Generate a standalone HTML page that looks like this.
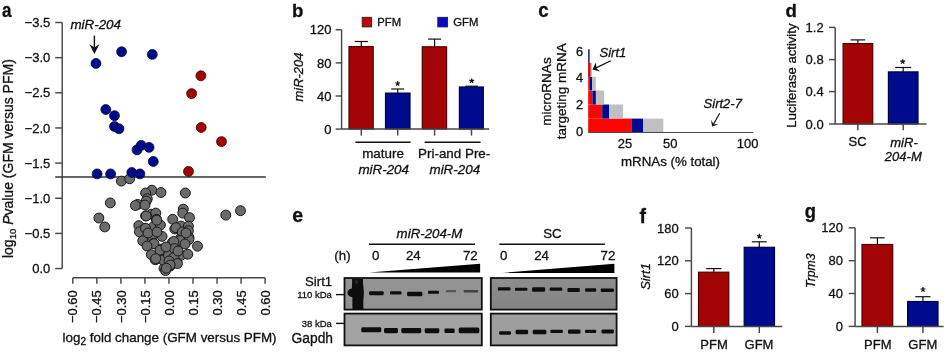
<!DOCTYPE html>
<html><head><meta charset="utf-8"><style>
html,body{margin:0;padding:0;background:#fff;}
svg{display:block;font-family:"Liberation Sans", sans-serif;filter:blur(0.35px);}
text{fill:#111;stroke:#111;stroke-width:0.3px;}
</style></head><body>
<svg width="946" height="352" viewBox="0 0 946 352">
<defs><linearGradient id="gsc" x1="0" y1="0" x2="0" y2="1"><stop offset="0" stop-color="#8e8e8e"/><stop offset="1" stop-color="#838383"/></linearGradient></defs>
<rect width="946" height="352" fill="#fff"/>
<text transform="translate(2.0,16.6) scale(0.88,1)" font-size="19.5" font-weight="bold">a</text>
<line x1="62.2" y1="22.5" x2="62.2" y2="268.54999999999995" stroke="#474747" stroke-width="1.45"/>
<line x1="55.2" y1="22.5" x2="62.2" y2="22.5" stroke="#474747" stroke-width="1.45"/>
<text x="50.3" y="27.1" font-size="13" text-anchor="end">&#8722;3.5</text>
<line x1="55.2" y1="57.65" x2="62.2" y2="57.65" stroke="#474747" stroke-width="1.45"/>
<text x="50.3" y="62.25" font-size="13" text-anchor="end">&#8722;3.0</text>
<line x1="55.2" y1="92.8" x2="62.2" y2="92.8" stroke="#474747" stroke-width="1.45"/>
<text x="50.3" y="97.39999999999999" font-size="13" text-anchor="end">&#8722;2.5</text>
<line x1="55.2" y1="127.94999999999999" x2="62.2" y2="127.94999999999999" stroke="#474747" stroke-width="1.45"/>
<text x="50.3" y="132.54999999999998" font-size="13" text-anchor="end">&#8722;2.0</text>
<line x1="55.2" y1="163.1" x2="62.2" y2="163.1" stroke="#474747" stroke-width="1.45"/>
<text x="50.3" y="167.7" font-size="13" text-anchor="end">&#8722;1.5</text>
<line x1="55.2" y1="198.25" x2="62.2" y2="198.25" stroke="#474747" stroke-width="1.45"/>
<text x="50.3" y="202.85" font-size="13" text-anchor="end">&#8722;1.0</text>
<line x1="55.2" y1="233.39999999999998" x2="62.2" y2="233.39999999999998" stroke="#474747" stroke-width="1.45"/>
<text x="50.3" y="237.99999999999997" font-size="13" text-anchor="end">&#8722;0.5</text>
<line x1="55.2" y1="268.54999999999995" x2="62.2" y2="268.54999999999995" stroke="#474747" stroke-width="1.45"/>
<text x="50.3" y="273.15" font-size="13" text-anchor="end">0.0</text>
<text transform="translate(12.8,158.6) rotate(-90)" font-size="14" text-anchor="middle">log<tspan font-size="9.5" dy="3">10</tspan><tspan dy="-3"> </tspan><tspan font-style="italic">P</tspan>value (GFM versus PFM)</text>
<line x1="55.2" y1="177.0" x2="265.8" y2="177.0" stroke="#333" stroke-width="1.4"/>
<line x1="72.8" y1="277.8" x2="265.12" y2="277.8" stroke="#474747" stroke-width="1.45"/>
<line x1="72.8" y1="277.8" x2="72.8" y2="283.8" stroke="#474747" stroke-width="1.45"/>
<text transform="translate(77.4,290.2) rotate(-90)" font-size="13" text-anchor="end">&#8722;0.60</text>
<line x1="96.84" y1="277.8" x2="96.84" y2="283.8" stroke="#474747" stroke-width="1.45"/>
<text transform="translate(101.4,290.2) rotate(-90)" font-size="13" text-anchor="end">&#8722;0.45</text>
<line x1="120.88" y1="277.8" x2="120.88" y2="283.8" stroke="#474747" stroke-width="1.45"/>
<text transform="translate(125.5,290.2) rotate(-90)" font-size="13" text-anchor="end">&#8722;0.30</text>
<line x1="144.92000000000002" y1="277.8" x2="144.92000000000002" y2="283.8" stroke="#474747" stroke-width="1.45"/>
<text transform="translate(149.5,290.2) rotate(-90)" font-size="13" text-anchor="end">&#8722;0.15</text>
<line x1="168.95999999999998" y1="277.8" x2="168.95999999999998" y2="283.8" stroke="#474747" stroke-width="1.45"/>
<text transform="translate(173.6,290.2) rotate(-90)" font-size="13" text-anchor="end">0.00</text>
<line x1="193.0" y1="277.8" x2="193.0" y2="283.8" stroke="#474747" stroke-width="1.45"/>
<text transform="translate(197.6,290.2) rotate(-90)" font-size="13" text-anchor="end">0.15</text>
<line x1="217.04000000000002" y1="277.8" x2="217.04000000000002" y2="283.8" stroke="#474747" stroke-width="1.45"/>
<text transform="translate(221.6,290.2) rotate(-90)" font-size="13" text-anchor="end">0.30</text>
<line x1="241.07999999999998" y1="277.8" x2="241.07999999999998" y2="283.8" stroke="#474747" stroke-width="1.45"/>
<text transform="translate(245.7,290.2) rotate(-90)" font-size="13" text-anchor="end">0.45</text>
<line x1="265.12" y1="277.8" x2="265.12" y2="283.8" stroke="#474747" stroke-width="1.45"/>
<text transform="translate(269.7,290.2) rotate(-90)" font-size="13" text-anchor="end">0.60</text>
<text x="62.6" y="341.7" font-size="13.4">log<tspan font-size="10" dy="3.3">2</tspan><tspan dy="-3.3"> fold change (GFM versus PFM)</tspan></text>
<text x="70.4" y="29.4" font-size="13.4" text-anchor="start" font-style="italic">miR-204</text>
<line x1="94.4" y1="35.6" x2="94.4" y2="48" stroke="#111" stroke-width="1.4"/>
<path d="M89.4,44.2 L94.4,53.9 L99.4,44.2 L94.4,47.6 Z" fill="#111"/>
<circle cx="121.4" cy="181.1" r="4.95" fill="#6b6b6b" stroke="#1a1a1a" stroke-width="1"/>
<circle cx="129.7" cy="178.8" r="4.95" fill="#6b6b6b" stroke="#1a1a1a" stroke-width="1"/>
<circle cx="110.3" cy="202.9" r="4.95" fill="#6b6b6b" stroke="#1a1a1a" stroke-width="1"/>
<circle cx="98.9" cy="218" r="4.95" fill="#6b6b6b" stroke="#1a1a1a" stroke-width="1"/>
<circle cx="104.8" cy="226.9" r="4.95" fill="#6b6b6b" stroke="#1a1a1a" stroke-width="1"/>
<circle cx="225.8" cy="215.1" r="4.95" fill="#6b6b6b" stroke="#1a1a1a" stroke-width="1"/>
<circle cx="240.5" cy="210.7" r="4.95" fill="#6b6b6b" stroke="#1a1a1a" stroke-width="1"/>
<circle cx="185.4" cy="193" r="4.95" fill="#6b6b6b" stroke="#1a1a1a" stroke-width="1"/>
<circle cx="151.9" cy="190.2" r="4.95" fill="#6b6b6b" stroke="#1a1a1a" stroke-width="1"/>
<circle cx="161" cy="192.5" r="4.95" fill="#6b6b6b" stroke="#1a1a1a" stroke-width="1"/>
<circle cx="145.6" cy="193" r="4.95" fill="#6b6b6b" stroke="#1a1a1a" stroke-width="1"/>
<circle cx="147.3" cy="198.7" r="4.95" fill="#6b6b6b" stroke="#1a1a1a" stroke-width="1"/>
<circle cx="146.2" cy="201.1" r="4.95" fill="#6b6b6b" stroke="#1a1a1a" stroke-width="1"/>
<circle cx="137.7" cy="204.4" r="4.95" fill="#6b6b6b" stroke="#1a1a1a" stroke-width="1"/>
<circle cx="135.4" cy="205.5" r="4.95" fill="#6b6b6b" stroke="#1a1a1a" stroke-width="1"/>
<circle cx="145" cy="205" r="4.95" fill="#6b6b6b" stroke="#1a1a1a" stroke-width="1"/>
<circle cx="183.3" cy="209.1" r="4.95" fill="#6b6b6b" stroke="#1a1a1a" stroke-width="1"/>
<circle cx="182.7" cy="213.1" r="4.95" fill="#6b6b6b" stroke="#1a1a1a" stroke-width="1"/>
<circle cx="189.5" cy="217.6" r="4.95" fill="#6b6b6b" stroke="#1a1a1a" stroke-width="1"/>
<circle cx="172.7" cy="219.3" r="4.95" fill="#6b6b6b" stroke="#1a1a1a" stroke-width="1"/>
<circle cx="145.6" cy="215.9" r="4.95" fill="#6b6b6b" stroke="#1a1a1a" stroke-width="1"/>
<circle cx="151.3" cy="214.2" r="4.95" fill="#6b6b6b" stroke="#1a1a1a" stroke-width="1"/>
<circle cx="155.8" cy="213.1" r="4.95" fill="#6b6b6b" stroke="#1a1a1a" stroke-width="1"/>
<circle cx="156.4" cy="219.3" r="4.95" fill="#6b6b6b" stroke="#1a1a1a" stroke-width="1"/>
<circle cx="181" cy="226.1" r="4.95" fill="#6b6b6b" stroke="#1a1a1a" stroke-width="1"/>
<circle cx="188.4" cy="226.1" r="4.95" fill="#6b6b6b" stroke="#1a1a1a" stroke-width="1"/>
<circle cx="174.8" cy="229" r="4.95" fill="#6b6b6b" stroke="#1a1a1a" stroke-width="1"/>
<circle cx="188.4" cy="230.7" r="4.95" fill="#6b6b6b" stroke="#1a1a1a" stroke-width="1"/>
<circle cx="182.2" cy="234.1" r="4.95" fill="#6b6b6b" stroke="#1a1a1a" stroke-width="1"/>
<circle cx="138.8" cy="225.6" r="4.95" fill="#6b6b6b" stroke="#1a1a1a" stroke-width="1"/>
<circle cx="145" cy="228.4" r="4.95" fill="#6b6b6b" stroke="#1a1a1a" stroke-width="1"/>
<circle cx="153.6" cy="226.7" r="4.95" fill="#6b6b6b" stroke="#1a1a1a" stroke-width="1"/>
<circle cx="160.4" cy="225" r="4.95" fill="#6b6b6b" stroke="#1a1a1a" stroke-width="1"/>
<circle cx="139.4" cy="231.8" r="4.95" fill="#6b6b6b" stroke="#1a1a1a" stroke-width="1"/>
<circle cx="180.5" cy="238.6" r="4.95" fill="#6b6b6b" stroke="#1a1a1a" stroke-width="1"/>
<circle cx="189" cy="237.5" r="4.95" fill="#6b6b6b" stroke="#1a1a1a" stroke-width="1"/>
<circle cx="180.5" cy="241.1" r="4.95" fill="#6b6b6b" stroke="#1a1a1a" stroke-width="1"/>
<circle cx="189" cy="239.4" r="4.95" fill="#6b6b6b" stroke="#1a1a1a" stroke-width="1"/>
<circle cx="197.5" cy="246.2" r="4.95" fill="#6b6b6b" stroke="#1a1a1a" stroke-width="1"/>
<circle cx="172.5" cy="242.2" r="4.95" fill="#6b6b6b" stroke="#1a1a1a" stroke-width="1"/>
<circle cx="174.8" cy="247.9" r="4.95" fill="#6b6b6b" stroke="#1a1a1a" stroke-width="1"/>
<circle cx="151.9" cy="236.6" r="4.95" fill="#6b6b6b" stroke="#1a1a1a" stroke-width="1"/>
<circle cx="162.1" cy="236.4" r="4.95" fill="#6b6b6b" stroke="#1a1a1a" stroke-width="1"/>
<circle cx="142.8" cy="240.8" r="4.95" fill="#6b6b6b" stroke="#1a1a1a" stroke-width="1"/>
<circle cx="153.6" cy="243.4" r="4.95" fill="#6b6b6b" stroke="#1a1a1a" stroke-width="1"/>
<circle cx="160.4" cy="250.2" r="4.95" fill="#6b6b6b" stroke="#1a1a1a" stroke-width="1"/>
<circle cx="161.7" cy="249" r="4.95" fill="#6b6b6b" stroke="#1a1a1a" stroke-width="1"/>
<circle cx="166.8" cy="254.2" r="4.95" fill="#6b6b6b" stroke="#1a1a1a" stroke-width="1"/>
<circle cx="181" cy="255.3" r="4.95" fill="#6b6b6b" stroke="#1a1a1a" stroke-width="1"/>
<circle cx="187.8" cy="254.2" r="4.95" fill="#6b6b6b" stroke="#1a1a1a" stroke-width="1"/>
<circle cx="173.1" cy="258.1" r="4.95" fill="#6b6b6b" stroke="#1a1a1a" stroke-width="1"/>
<circle cx="177" cy="262.7" r="4.95" fill="#6b6b6b" stroke="#1a1a1a" stroke-width="1"/>
<circle cx="151.3" cy="254.7" r="4.95" fill="#6b6b6b" stroke="#1a1a1a" stroke-width="1"/>
<circle cx="155.3" cy="259.8" r="4.95" fill="#6b6b6b" stroke="#1a1a1a" stroke-width="1"/>
<circle cx="162.7" cy="259.8" r="4.95" fill="#6b6b6b" stroke="#1a1a1a" stroke-width="1"/>
<circle cx="166.6" cy="265" r="4.95" fill="#6b6b6b" stroke="#1a1a1a" stroke-width="1"/>
<circle cx="170.2" cy="266.1" r="4.95" fill="#6b6b6b" stroke="#1a1a1a" stroke-width="1"/>
<circle cx="164" cy="268.4" r="4.95" fill="#6b6b6b" stroke="#1a1a1a" stroke-width="1"/>
<circle cx="165.5" cy="270.6" r="4.95" fill="#6b6b6b" stroke="#1a1a1a" stroke-width="1"/>
<circle cx="145.5" cy="228.3" r="4.95" fill="#6b6b6b" stroke="#1a1a1a" stroke-width="1"/>
<circle cx="154" cy="243.7" r="4.95" fill="#6b6b6b" stroke="#1a1a1a" stroke-width="1"/>
<circle cx="160" cy="250.1" r="4.95" fill="#6b6b6b" stroke="#1a1a1a" stroke-width="1"/>
<circle cx="163.2" cy="260.1" r="4.95" fill="#6b6b6b" stroke="#1a1a1a" stroke-width="1"/>
<circle cx="155.7" cy="258.6" r="4.95" fill="#6b6b6b" stroke="#1a1a1a" stroke-width="1"/>
<circle cx="168.5" cy="255" r="4.95" fill="#6b6b6b" stroke="#1a1a1a" stroke-width="1"/>
<circle cx="175.9" cy="227.7" r="4.95" fill="#6b6b6b" stroke="#1a1a1a" stroke-width="1"/>
<circle cx="182.3" cy="232" r="4.95" fill="#6b6b6b" stroke="#1a1a1a" stroke-width="1"/>
<circle cx="180.2" cy="240.5" r="4.95" fill="#6b6b6b" stroke="#1a1a1a" stroke-width="1"/>
<circle cx="173.8" cy="241.5" r="4.95" fill="#6b6b6b" stroke="#1a1a1a" stroke-width="1"/>
<circle cx="174.4" cy="248.6" r="4.95" fill="#6b6b6b" stroke="#1a1a1a" stroke-width="1"/>
<circle cx="173.8" cy="257.5" r="4.95" fill="#6b6b6b" stroke="#1a1a1a" stroke-width="1"/>
<circle cx="177.4" cy="263.5" r="4.95" fill="#6b6b6b" stroke="#1a1a1a" stroke-width="1"/>
<circle cx="156.8" cy="220.2" r="4.95" fill="#6b6b6b" stroke="#1a1a1a" stroke-width="1"/>
<circle cx="146.1" cy="216" r="4.95" fill="#6b6b6b" stroke="#1a1a1a" stroke-width="1"/>
<circle cx="148" cy="233" r="4.95" fill="#6b6b6b" stroke="#1a1a1a" stroke-width="1"/>
<circle cx="147" cy="246" r="4.95" fill="#6b6b6b" stroke="#1a1a1a" stroke-width="1"/>
<circle cx="157" cy="232" r="4.95" fill="#6b6b6b" stroke="#1a1a1a" stroke-width="1"/>
<circle cx="166" cy="247" r="4.95" fill="#6b6b6b" stroke="#1a1a1a" stroke-width="1"/>
<circle cx="178" cy="251" r="4.95" fill="#6b6b6b" stroke="#1a1a1a" stroke-width="1"/>
<circle cx="169" cy="261" r="4.95" fill="#6b6b6b" stroke="#1a1a1a" stroke-width="1"/>
<circle cx="185" cy="244" r="4.95" fill="#6b6b6b" stroke="#1a1a1a" stroke-width="1"/>
<circle cx="186" cy="233" r="4.95" fill="#6b6b6b" stroke="#1a1a1a" stroke-width="1"/>
<circle cx="170.2" cy="265" r="4.95" fill="#6b6b6b" stroke="#1a1a1a" stroke-width="1"/>
<circle cx="166.3" cy="268.2" r="4.95" fill="#6b6b6b" stroke="#1a1a1a" stroke-width="1"/>
<circle cx="96" cy="63.4" r="4.95" fill="#000a8c" stroke="#0a0a30" stroke-width="0.8"/>
<circle cx="121.6" cy="51.8" r="4.95" fill="#000a8c" stroke="#0a0a30" stroke-width="0.8"/>
<circle cx="152.3" cy="54.4" r="4.95" fill="#000a8c" stroke="#0a0a30" stroke-width="0.8"/>
<circle cx="105.8" cy="109.5" r="4.95" fill="#000a8c" stroke="#0a0a30" stroke-width="0.8"/>
<circle cx="114.5" cy="115.7" r="4.95" fill="#000a8c" stroke="#0a0a30" stroke-width="0.8"/>
<circle cx="114.5" cy="126.5" r="4.95" fill="#000a8c" stroke="#0a0a30" stroke-width="0.8"/>
<circle cx="119" cy="128.8" r="4.95" fill="#000a8c" stroke="#0a0a30" stroke-width="0.8"/>
<circle cx="137" cy="149.9" r="4.95" fill="#000a8c" stroke="#0a0a30" stroke-width="0.8"/>
<circle cx="141.2" cy="145.4" r="4.95" fill="#000a8c" stroke="#0a0a30" stroke-width="0.8"/>
<circle cx="149.1" cy="147.4" r="4.95" fill="#000a8c" stroke="#0a0a30" stroke-width="0.8"/>
<circle cx="153.3" cy="161.5" r="4.95" fill="#000a8c" stroke="#0a0a30" stroke-width="0.8"/>
<circle cx="97.1" cy="173.9" r="4.95" fill="#000a8c" stroke="#0a0a30" stroke-width="0.8"/>
<circle cx="110.6" cy="173.9" r="4.95" fill="#000a8c" stroke="#0a0a30" stroke-width="0.8"/>
<circle cx="131.8" cy="172.5" r="4.95" fill="#000a8c" stroke="#0a0a30" stroke-width="0.8"/>
<circle cx="139.9" cy="173.9" r="4.95" fill="#000a8c" stroke="#0a0a30" stroke-width="0.8"/>
<circle cx="200.9" cy="75.8" r="4.95" fill="#a30406" stroke="#300" stroke-width="0.8"/>
<circle cx="191.6" cy="93.6" r="4.95" fill="#a30406" stroke="#300" stroke-width="0.8"/>
<circle cx="201.2" cy="127.5" r="4.95" fill="#a30406" stroke="#300" stroke-width="0.8"/>
<circle cx="221.5" cy="141.6" r="4.95" fill="#a30406" stroke="#300" stroke-width="0.8"/>
<circle cx="188.5" cy="171.4" r="4.95" fill="#a30406" stroke="#300" stroke-width="0.8"/>
<text transform="translate(292.1,16.6) scale(0.98,1)" font-size="19" font-weight="bold">b</text>
<rect x="362.2" y="17.3" width="9.400000000000034" height="9.599999999999998" fill="#c80008" stroke="#222" stroke-width="0.9"/>
<text x="377.3" y="26.4" font-size="11.3" text-anchor="start">PFM</text>
<rect x="437.8" y="17.3" width="9.800000000000011" height="9.599999999999998" fill="#0a06cc" stroke="#222" stroke-width="0.9"/>
<text x="453.2" y="26.4" font-size="11.3" text-anchor="start">GFM</text>
<line x1="341.6" y1="29.8" x2="341.6" y2="129.1" stroke="#474747" stroke-width="1.45"/>
<line x1="335.6" y1="29.8" x2="341.6" y2="29.8" stroke="#474747" stroke-width="1.45"/>
<text x="331.5" y="34.4" font-size="13" text-anchor="end">120</text>
<line x1="335.6" y1="62.9" x2="341.6" y2="62.9" stroke="#474747" stroke-width="1.45"/>
<text x="331.5" y="67.5" font-size="13" text-anchor="end">80</text>
<line x1="335.6" y1="96.0" x2="341.6" y2="96.0" stroke="#474747" stroke-width="1.45"/>
<text x="331.5" y="100.6" font-size="13" text-anchor="end">40</text>
<line x1="335.6" y1="129.1" x2="341.6" y2="129.1" stroke="#474747" stroke-width="1.45"/>
<text x="331.5" y="133.7" font-size="13" text-anchor="end">0</text>
<text transform="translate(303,77) rotate(-90)" font-size="13" text-anchor="middle" font-style="italic">miR-204</text>
<line x1="361.3" y1="46.6" x2="361.3" y2="41.5" stroke="#111" stroke-width="1.2"/>
<line x1="354.7" y1="41.5" x2="367.90000000000003" y2="41.5" stroke="#111" stroke-width="1.2"/>
<rect x="349.0" y="46.6" width="24.19999999999999" height="82.4" fill="#a30406" stroke="#500000" stroke-width="1.2"/>
<line x1="397.7" y1="93.1" x2="397.7" y2="89" stroke="#111" stroke-width="1.2"/>
<line x1="391.2" y1="89" x2="404.2" y2="89" stroke="#111" stroke-width="1.2"/>
<rect x="385.5" y="93.1" width="24.5" height="35.900000000000006" fill="#000a8c" stroke="#000040" stroke-width="1.2"/>
<line x1="434.6" y1="46.8" x2="434.6" y2="39.1" stroke="#111" stroke-width="1.2"/>
<line x1="428.1" y1="39.1" x2="441.1" y2="39.1" stroke="#111" stroke-width="1.2"/>
<rect x="422.3" y="46.8" width="24.30000000000001" height="82.2" fill="#a30406" stroke="#500000" stroke-width="1.2"/>
<line x1="471.5" y1="87" x2="471.5" y2="86.2" stroke="#111" stroke-width="1.2"/>
<line x1="465.2" y1="86.2" x2="477.8" y2="86.2" stroke="#111" stroke-width="1.2"/>
<rect x="459.4" y="87" width="23.900000000000034" height="42.0" fill="#000a8c" stroke="#000040" stroke-width="1.2"/>
<path d="M397.70,83.50L397.70,81.00M397.70,83.50L400.08,82.73M397.70,83.50L399.17,85.52M397.70,83.50L396.23,85.52M397.70,83.50L395.32,82.73" stroke="#111" stroke-width="1.25" fill="none"/>
<path d="M471.70,80.90L471.70,78.40M471.70,80.90L474.08,80.13M471.70,80.90L473.17,82.92M471.70,80.90L470.23,82.92M471.70,80.90L469.32,80.13" stroke="#111" stroke-width="1.25" fill="none"/>
<line x1="341.6" y1="129.0" x2="489.2" y2="129.0" stroke="#474747" stroke-width="1.45"/>
<line x1="361.3" y1="129.0" x2="361.3" y2="135.6" stroke="#474747" stroke-width="1.45"/>
<line x1="397.7" y1="129.0" x2="397.7" y2="135.6" stroke="#474747" stroke-width="1.45"/>
<line x1="434.6" y1="129.0" x2="434.6" y2="135.6" stroke="#474747" stroke-width="1.45"/>
<line x1="471.5" y1="129.0" x2="471.5" y2="135.6" stroke="#474747" stroke-width="1.45"/>
<line x1="355.4" y1="142.3" x2="410.6" y2="142.3" stroke="#111" stroke-width="1.5"/>
<line x1="424.6" y1="142.3" x2="480.6" y2="142.3" stroke="#111" stroke-width="1.5"/>
<text x="383.0" y="158.3" font-size="13.4" text-anchor="middle">mature</text>
<text x="383.7" y="174" font-size="13.4" text-anchor="middle" font-style="italic">miR-204</text>
<text x="454.2" y="158.3" font-size="13.4" text-anchor="middle">Pri-and Pre-</text>
<text x="454.8" y="174" font-size="13.4" text-anchor="middle" font-style="italic">miR-204</text>
<text transform="translate(538.3,16.6) scale(0.96,1)" font-size="19.5" font-weight="bold">c</text>
<rect x="588.2" y="118.6" width="43.69999999999993" height="13.900000000000006" fill="#fd0505"/>
<rect x="631.9" y="118.6" width="11.399999999999977" height="13.900000000000006" fill="#000a8c"/>
<rect x="643.3" y="118.6" width="20.0" height="13.900000000000006" fill="#c0c0c3"/>
<rect x="588.2" y="104.5" width="14.0" height="14.099999999999994" fill="#fd0505"/>
<rect x="602.2" y="104.5" width="6.7999999999999545" height="14.099999999999994" fill="#000a8c"/>
<rect x="609.0" y="104.5" width="14.100000000000023" height="14.099999999999994" fill="#c0c0c3"/>
<rect x="588.2" y="90.5" width="4.199999999999932" height="14.0" fill="#fd0505"/>
<rect x="592.4" y="90.5" width="3.5" height="14.0" fill="#000a8c"/>
<rect x="595.9" y="90.5" width="8.200000000000045" height="14.0" fill="#c0c0c3"/>
<rect x="588.2" y="76.8" width="1.7999999999999545" height="13.700000000000003" fill="#fd0505"/>
<rect x="590.0" y="76.8" width="2.0" height="13.700000000000003" fill="#000a8c"/>
<rect x="592.0" y="76.8" width="3.7999999999999545" height="13.700000000000003" fill="#c0c0c3"/>
<rect x="588.2" y="63.0" width="2.2999999999999545" height="13.799999999999997" fill="#fd0505"/>
<rect x="590.5" y="63.0" width="1.5" height="13.799999999999997" fill="#c0c0c3"/>
<rect x="588.2" y="49.2" width="1.4" height="13.8" fill="#0a0a60"/>
<rect x="588.2" y="63" width="2.3" height="13.8" fill="#c8101c"/>
<line x1="588.2" y1="132.5" x2="753.3" y2="132.5" stroke="#474747" stroke-width="1.2"/>
<text x="583.0" y="56.199999999999996" font-size="12.8" text-anchor="end">6</text>
<text x="583.0" y="81.9" font-size="12.8" text-anchor="end">4</text>
<text x="583.0" y="108.60000000000001" font-size="12.8" text-anchor="end">2</text>
<text x="583.0" y="136.20000000000002" font-size="12.8" text-anchor="end">0</text>
<text transform="translate(551,91.5) rotate(-90)" font-size="13.5" text-anchor="middle">microRNAs</text>
<text transform="translate(566.4,91.3) rotate(-90)" font-size="13.5" text-anchor="middle">targeting mRNA</text>
<text x="625.0" y="147.5" font-size="13" text-anchor="middle">25</text>
<text x="670.2" y="147.5" font-size="13" text-anchor="middle">50</text>
<text x="747.6" y="147.5" font-size="13" text-anchor="middle">100</text>
<text x="670.5" y="166" font-size="13.3" text-anchor="middle">mRNAs (% total)</text>
<text x="599.5" y="57.2" font-size="13" text-anchor="start" font-style="italic">Sirt1</text>
<line x1="610.8" y1="60.7" x2="595" y2="68.4" stroke="#111" stroke-width="1.2"/>
<path d="M595.9,62.4 L592.4,69.6 L600.2,71.6 L596.4,68.2 Z" fill="#111"/>
<text x="703.6" y="108.3" font-size="13" text-anchor="start" font-style="italic">Sirt2-7</text>
<line x1="719.7" y1="113.3" x2="713.2" y2="124.8" stroke="#111" stroke-width="1.2"/>
<path d="M711.0,119.7 L712.1,126.6 L718.6,124.2 L713.6,124.3 Z" fill="#111"/>
<text transform="translate(785.5,16.6) scale(0.98,1)" font-size="19" font-weight="bold">d</text>
<line x1="835.2" y1="27.4" x2="835.2" y2="124.2" stroke="#474747" stroke-width="1.45"/>
<line x1="829.1" y1="27.4" x2="835.2" y2="27.4" stroke="#474747" stroke-width="1.45"/>
<text x="823.7" y="32.0" font-size="13" text-anchor="end">1.2</text>
<line x1="829.1" y1="59.6" x2="835.2" y2="59.6" stroke="#474747" stroke-width="1.45"/>
<text x="823.7" y="64.2" font-size="13" text-anchor="end">0.8</text>
<line x1="829.1" y1="91.6" x2="835.2" y2="91.6" stroke="#474747" stroke-width="1.45"/>
<text x="823.7" y="96.19999999999999" font-size="13" text-anchor="end">0.4</text>
<line x1="829.1" y1="124.0" x2="835.2" y2="124.0" stroke="#474747" stroke-width="1.45"/>
<text x="823.7" y="128.6" font-size="13" text-anchor="end">0.0</text>
<text transform="translate(796.4,75.6) rotate(-90)" font-size="13.1" text-anchor="middle">Luciferase activity</text>
<line x1="857.9" y1="43.6" x2="857.9" y2="39.9" stroke="#111" stroke-width="1.2"/>
<line x1="850.6" y1="39.9" x2="865.1999999999999" y2="39.9" stroke="#111" stroke-width="1.2"/>
<rect x="843.1" y="43.6" width="29.600000000000023" height="80.30000000000001" fill="#a30406" stroke="#500000" stroke-width="1.2"/>
<line x1="903.2" y1="71.9" x2="903.2" y2="67.5" stroke="#111" stroke-width="1.2"/>
<line x1="895.2" y1="67.5" x2="911.2" y2="67.5" stroke="#111" stroke-width="1.2"/>
<rect x="888.4" y="71.9" width="29.600000000000023" height="52.0" fill="#000a8c" stroke="#000040" stroke-width="1.2"/>
<path d="M902.70,61.70L902.70,59.20M902.70,61.70L905.08,60.93M902.70,61.70L904.17,63.72M902.70,61.70L901.23,63.72M902.70,61.70L900.32,60.93" stroke="#111" stroke-width="1.25" fill="none"/>
<line x1="835.2" y1="123.9" x2="926.6" y2="123.9" stroke="#474747" stroke-width="1.45"/>
<line x1="857.9" y1="123.9" x2="857.9" y2="130.3" stroke="#474747" stroke-width="1.45"/>
<line x1="903.2" y1="123.9" x2="903.2" y2="130.3" stroke="#474747" stroke-width="1.45"/>
<text x="857.6" y="146.2" font-size="13" text-anchor="middle">SC</text>
<text x="904" y="147" font-size="13" text-anchor="middle" font-style="italic">miR-</text>
<text x="903.3" y="160.5" font-size="13" text-anchor="middle" font-style="italic">204-M</text>
<text transform="translate(292.3,222.4) scale(1.0,1)" font-size="19.5" font-weight="bold">e</text>
<text x="429.5" y="237.9" font-size="13.3" text-anchor="middle" font-style="italic">miR-204-M</text>
<line x1="369" y1="244.3" x2="475" y2="244.3" stroke="#111" stroke-width="1.4"/>
<text x="552.5" y="237.7" font-size="13.3" text-anchor="middle">SC</text>
<line x1="499.3" y1="244.3" x2="604.9" y2="244.3" stroke="#111" stroke-width="1.4"/>
<text x="342.5" y="260.4" font-size="13.3" text-anchor="middle">(h)</text>
<text x="375.6" y="260.4" font-size="13.3" text-anchor="middle">0</text>
<text x="413.3" y="260.4" font-size="13.3" text-anchor="middle">24</text>
<text x="470.3" y="260.4" font-size="13.3" text-anchor="middle">72</text>
<text x="503.6" y="260.4" font-size="13.3" text-anchor="middle">0</text>
<text x="541.6" y="260.4" font-size="13.3" text-anchor="middle">24</text>
<text x="608" y="260.4" font-size="13.3" text-anchor="middle">72</text>
<polygon points="369,272.6 480.1,263.8 480.1,272.6" fill="#000"/>
<polygon points="502.6,272.9 614.4,263.8 614.4,272.9" fill="#000"/>
<rect x="344.5" y="278" width="137.3" height="31.600000000000023" fill="#939393" stroke="#111" stroke-width="1.8"/>
<rect x="344.5" y="313.6" width="137.3" height="31.799999999999955" fill="#a3a3a3" stroke="#111" stroke-width="1.8"/>
<rect x="490.8" y="278" width="125.80000000000001" height="31.600000000000023" fill="url(#gsc)" stroke="#111" stroke-width="1.8"/>
<rect x="490.8" y="313.6" width="125.80000000000001" height="31.799999999999955" fill="#9e9e9e" stroke="#111" stroke-width="1.8"/>
<path d="M352,279 L363,279 C362.5,285 364.5,290 363.8,295 C363.2,300 363.2,305 363.5,309.2 L352.5,309.2 C352,303 352.8,299 352,293 C351.5,287 352.5,283 352,279 Z" fill="#0d0d0d"/>
<ellipse cx="352.2" cy="292.8" rx="4.8" ry="4.2" fill="#0d0d0d"/>
<ellipse cx="356.5" cy="282" rx="1.3" ry="2.2" fill="#2a2a2a"/>
<rect x="369.1" y="291.25" width="14.60" height="3.90" rx="1.09" fill="#0e0e0e" opacity="1"/>
<rect x="390" y="291.25" width="11.40" height="3.30" rx="0.92" fill="#0e0e0e" opacity="1"/>
<rect x="407.1" y="291.75" width="15.30" height="4.50" rx="1.26" fill="#0e0e0e" opacity="1"/>
<rect x="428" y="290.75" width="10.90" height="3.10" rx="0.87" fill="#0e0e0e" opacity="1"/>
<rect x="445.9" y="290.05" width="10.10" height="2.30" rx="0.64" fill="#0e0e0e" opacity="0.45"/>
<rect x="463.6" y="289.95" width="14.60" height="2.50" rx="0.70" fill="#0e0e0e" opacity="0.6"/>
<rect x="361.3" y="327.25" width="20.00" height="5.10" rx="1.43" fill="#0e0e0e" opacity="1"/>
<rect x="384" y="328.05" width="14.00" height="5.30" rx="1.48" fill="#0e0e0e" opacity="1"/>
<rect x="401.3" y="328.05" width="20.00" height="5.30" rx="1.48" fill="#0e0e0e" opacity="1"/>
<rect x="424.7" y="328.15" width="14.60" height="5.10" rx="1.43" fill="#0e0e0e" opacity="1"/>
<rect x="444.4" y="328.45" width="10.30" height="4.50" rx="1.26" fill="#0e0e0e" opacity="1"/>
<rect x="458.7" y="327.55" width="20.60" height="5.70" rx="1.60" fill="#0e0e0e" opacity="1"/>
<rect x="497.9" y="287.25" width="12.50" height="3.30" rx="0.92" fill="#0e0e0e" opacity="1"/>
<rect x="515" y="287.75" width="12.40" height="3.10" rx="0.87" fill="#0e0e0e" opacity="1"/>
<rect x="532" y="287.30" width="13.10" height="4.40" rx="1.23" fill="#0e0e0e" opacity="1"/>
<rect x="549.7" y="287.55" width="12.50" height="3.30" rx="0.92" fill="#0e0e0e" opacity="1"/>
<rect x="567.4" y="287.90" width="12.40" height="4.20" rx="1.18" fill="#0e0e0e" opacity="1"/>
<rect x="585.1" y="288.25" width="11.10" height="3.50" rx="0.98" fill="#0e0e0e" opacity="1"/>
<rect x="600.8" y="288.60" width="13.10" height="3.40" rx="0.95" fill="#0e0e0e" opacity="1"/>
<rect x="499.2" y="331.20" width="11.80" height="3.60" rx="1.01" fill="#0e0e0e" opacity="1"/>
<rect x="515.6" y="329.85" width="12.50" height="4.50" rx="1.26" fill="#0e0e0e" opacity="1"/>
<rect x="532.7" y="329.65" width="13.70" height="4.70" rx="1.32" fill="#0e0e0e" opacity="1"/>
<rect x="550.4" y="329.65" width="12.40" height="3.30" rx="0.92" fill="#0e0e0e" opacity="1"/>
<rect x="568" y="329.40" width="12.50" height="4.40" rx="1.23" fill="#0e0e0e" opacity="1"/>
<rect x="585.1" y="329.85" width="11.10" height="3.10" rx="0.87" fill="#0e0e0e" opacity="1"/>
<rect x="601.5" y="329.40" width="12.40" height="4.00" rx="1.12" fill="#0e0e0e" opacity="1"/>
<text x="318.6" y="286.4" font-size="13.2" text-anchor="middle">Sirt1</text>
<text x="331.9" y="298.2" font-size="9.5" text-anchor="end">110 kDa</text>
<line x1="336" y1="294.6" x2="344.4" y2="294.6" stroke="#111" stroke-width="1.4"/>
<text x="331.8" y="326.9" font-size="9.5" text-anchor="end">38 kDa</text>
<line x1="336" y1="323.4" x2="344.4" y2="323.4" stroke="#111" stroke-width="1.4"/>
<text x="312.3" y="342.5" font-size="13.8" text-anchor="middle">Gapdh</text>
<text transform="translate(639.6,222.6) scale(1.0,1)" font-size="19.5" font-weight="bold">f</text>
<line x1="691.4" y1="228.0" x2="691.4" y2="326.5" stroke="#474747" stroke-width="1.45"/>
<line x1="685" y1="228.0" x2="691.4" y2="228.0" stroke="#474747" stroke-width="1.45"/>
<text x="678.8" y="232.6" font-size="13" text-anchor="end">180</text>
<line x1="685" y1="260.8" x2="691.4" y2="260.8" stroke="#474747" stroke-width="1.45"/>
<text x="678.8" y="265.40000000000003" font-size="13" text-anchor="end">120</text>
<line x1="685" y1="293.6" x2="691.4" y2="293.6" stroke="#474747" stroke-width="1.45"/>
<text x="678.8" y="298.20000000000005" font-size="13" text-anchor="end">60</text>
<line x1="685" y1="326.4" x2="691.4" y2="326.4" stroke="#474747" stroke-width="1.45"/>
<text x="678.8" y="331.0" font-size="13" text-anchor="end">0</text>
<text transform="translate(649.6,276.5) rotate(-90)" font-size="13" text-anchor="middle" font-style="italic">Sirt1</text>
<line x1="713.8" y1="272.2" x2="713.8" y2="268.6" stroke="#111" stroke-width="1.2"/>
<line x1="706.1999999999999" y1="268.6" x2="721.4" y2="268.6" stroke="#111" stroke-width="1.2"/>
<rect x="698.5" y="272.2" width="30.299999999999955" height="54.19999999999999" fill="#a30406" stroke="#500000" stroke-width="1.2"/>
<line x1="759.3" y1="247.3" x2="759.3" y2="241.8" stroke="#111" stroke-width="1.2"/>
<line x1="751.8" y1="241.8" x2="766.8" y2="241.8" stroke="#111" stroke-width="1.2"/>
<rect x="744.2" y="247.3" width="30.299999999999955" height="79.09999999999997" fill="#000a8c" stroke="#000040" stroke-width="1.2"/>
<path d="M759.30,236.30L759.30,233.80M759.30,236.30L761.68,235.53M759.30,236.30L760.77,238.32M759.30,236.30L757.83,238.32M759.30,236.30L756.92,235.53" stroke="#111" stroke-width="1.25" fill="none"/>
<line x1="691.4" y1="326.4" x2="782.2" y2="326.4" stroke="#474747" stroke-width="1.45"/>
<line x1="713.8" y1="326.4" x2="713.8" y2="333.0" stroke="#474747" stroke-width="1.45"/>
<line x1="759.3" y1="326.4" x2="759.3" y2="333.0" stroke="#474747" stroke-width="1.45"/>
<text x="714" y="348.9" font-size="13" text-anchor="middle">PFM</text>
<text x="759" y="348.9" font-size="13" text-anchor="middle">GFM</text>
<text transform="translate(804.8,218.4) scale(0.94,1)" font-size="19.5" font-weight="bold">g</text>
<line x1="855.1" y1="227.8" x2="855.1" y2="326.5" stroke="#474747" stroke-width="1.45"/>
<line x1="848.7" y1="227.8" x2="855.1" y2="227.8" stroke="#474747" stroke-width="1.45"/>
<text x="842.9" y="232.4" font-size="13" text-anchor="end">120</text>
<line x1="848.7" y1="260.7" x2="855.1" y2="260.7" stroke="#474747" stroke-width="1.45"/>
<text x="842.9" y="265.3" font-size="13" text-anchor="end">80</text>
<line x1="848.7" y1="293.5" x2="855.1" y2="293.5" stroke="#474747" stroke-width="1.45"/>
<text x="842.9" y="298.1" font-size="13" text-anchor="end">40</text>
<line x1="848.7" y1="326.4" x2="855.1" y2="326.4" stroke="#474747" stroke-width="1.45"/>
<text x="842.9" y="331.0" font-size="13" text-anchor="end">0</text>
<text transform="translate(815.2,270.6) rotate(-90)" font-size="12.3" text-anchor="middle" font-style="italic">Trpm3</text>
<line x1="877.4" y1="244.5" x2="877.4" y2="237.8" stroke="#111" stroke-width="1.2"/>
<line x1="870.1" y1="237.8" x2="884.6999999999999" y2="237.8" stroke="#111" stroke-width="1.2"/>
<rect x="862" y="244.5" width="30.700000000000045" height="81.89999999999998" fill="#a30406" stroke="#500000" stroke-width="1.2"/>
<line x1="922.9" y1="301.5" x2="922.9" y2="296.7" stroke="#111" stroke-width="1.2"/>
<line x1="915.3" y1="296.7" x2="930.5" y2="296.7" stroke="#111" stroke-width="1.2"/>
<rect x="907.6" y="301.5" width="30.399999999999977" height="24.899999999999977" fill="#000a8c" stroke="#000040" stroke-width="1.2"/>
<path d="M923.00,289.50L923.00,287.00M923.00,289.50L925.38,288.73M923.00,289.50L924.47,291.52M923.00,289.50L921.53,291.52M923.00,289.50L920.62,288.73" stroke="#111" stroke-width="1.25" fill="none"/>
<line x1="855.1" y1="326.4" x2="943.6" y2="326.4" stroke="#474747" stroke-width="1.45"/>
<line x1="877.4" y1="326.4" x2="877.4" y2="333.0" stroke="#474747" stroke-width="1.45"/>
<line x1="922.9" y1="326.4" x2="922.9" y2="333.0" stroke="#474747" stroke-width="1.45"/>
<text x="877.8" y="348.8" font-size="13" text-anchor="middle">PFM</text>
<text x="922.8" y="348.8" font-size="13" text-anchor="middle">GFM</text>
</svg>
</body></html>
